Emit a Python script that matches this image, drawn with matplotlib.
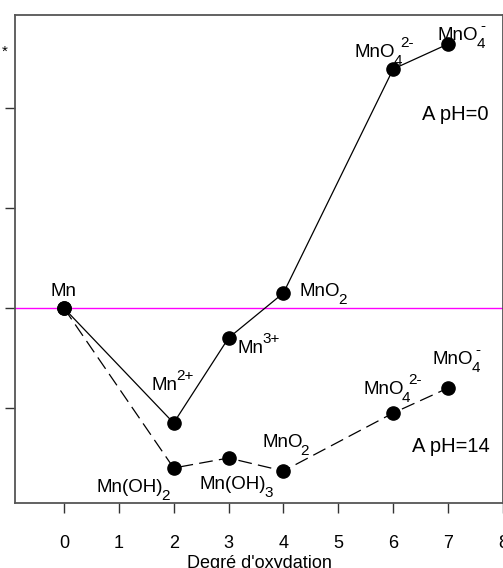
import matplotlib
matplotlib.use("Agg")
import matplotlib.pyplot as plt

plt.rcParams['font.family'] = ['Liberation Sans', 'DejaVu Sans']

# degré d'oxydation / nE° (V)
ox_ph0 = [0, 2, 3, 4, 6, 7]
ne_ph0 = [0, -2.3, -0.6, 0.3, 4.78, 5.28]
ox_ph14 = [0, 2, 3, 4, 6, 7]
ne_ph14 = [0, -3.2, -3.0, -3.26, -2.1, -1.6]

# (base, indice, exposant, x gauche, ligne de base)
species_ph0 = [('Mn', '', '', -0.25, 0.24),
               ('Mn', '', '2+', 1.6, -1.64),
               ('Mn', '', '3+', 3.17, -0.9),
               ('MnO', '2', '', 4.3, 0.24),
               ('MnO', '4', '2-', 5.3, 5.02),
               ('MnO', '4', '-', 6.81, 5.36)]
species_ph14 = [('Mn(OH)', '2', '', 0.6, -3.68),
                ('Mn(OH)', '3', '', 2.48, -3.62),
                ('MnO', '2', '', 3.61, -2.78),
                ('MnO', '4', '2-', 5.45, -1.72),
                ('MnO', '4', '-', 6.72, -1.12)]

fig = plt.figure(figsize=(5.03, 5.68), dpi=100)
ax = fig.add_axes([15/503, 65/568, 488/503, 488/568])

ax.axhline(0, color='magenta', lw=1, zorder=1)
ax.plot(ox_ph0, ne_ph0, '-', color='black', lw=0.9, marker='o', ms=9.5, zorder=3)
ax.plot(ox_ph14, ne_ph14, color='black', lw=0.9, ls=(0, (11, 5)), marker='o', ms=9.5, zorder=3)


def chem(base, sub, sup, x, y, size=13.5, small=11):
    t = ax.text(x, y, base, fontsize=size, ha='left', va='baseline')
    last = t
    if sub:
        last = ax.annotate(sub, xy=(1, y), xycoords=(t, 'data'), xytext=(-1.3, -5.5),
                           textcoords='offset points', fontsize=small,
                           ha='left', va='baseline')
    if sup:
        dx = -3 if sup == '-' else -1.3
        ax.annotate(sup, xy=(1, y), xycoords=(last, 'data'), xytext=(dx, 7),
                    textcoords='offset points', fontsize=small,
                    ha='left', va='baseline')


for s in species_ph0 + species_ph14:
    chem(*s)

ax.text(6.52, 3.76, 'A pH=0', ha='left', va='baseline', fontsize=14.5)
ax.text(6.34, -2.88, 'A pH=14', ha='left', va='baseline', fontsize=14.5)

ax.set_xlim(-0.89, 8.0)
ax.set_ylim(-3.9, 5.86)
ax.set_xticks(range(0, 9))
ax.set_yticks([-2, 0, 2, 4])
ax.set_yticklabels([])

for sp in ax.spines.values():
    sp.set_color('#555555')
    sp.set_linewidth(1.3)
ax.tick_params(axis='x', direction='out', length=7.2, width=1, color='#333333',
               pad=16, labelsize=13)
ax.tick_params(axis='y', direction='out', length=7.2, width=1, color='#333333')

ax.set_xlabel("Degré d'oxydation", fontsize=13, labelpad=2)
fig.text(5/503, 1 - 52/568, '*', ha='center', va='center', fontsize=11)

fig.savefig('out.png', dpi=100)
